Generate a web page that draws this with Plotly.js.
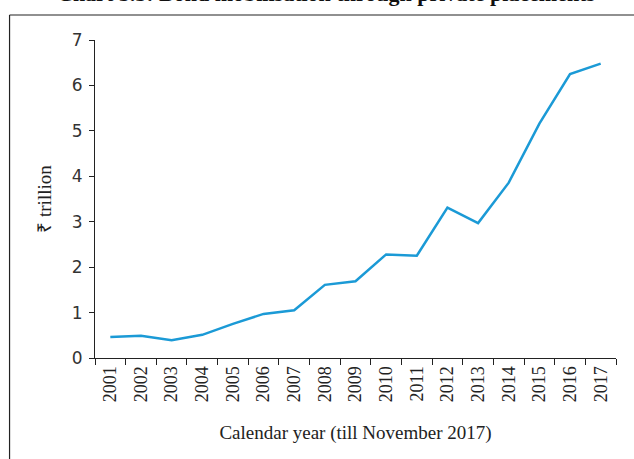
<!DOCTYPE html>
<html>
<head>
<meta charset="utf-8">
<script src="https://cdn.plot.ly/plotly-3.0.1.min.js"></script>
<style>html,body{margin:0;padding:0;background:#fff;}#chart{width:634px;height:459px;}</style>
</head>
<body>
<div id="chart"></div>
<script>
const years = ["2001","2002","2003","2004","2005","2006","2007","2008","2009","2010","2011","2012","2013","2014","2015","2016","2017"];
const values = [0.46,0.49,0.39,0.51,0.75,0.97,1.05,1.61,1.69,2.28,2.25,3.31,2.97,3.86,5.16,6.25,6.48];
const yTicks = [0,1,2,3,4,5,6,7];

const trace = {
  x: years, y: values, type: "scatter", mode: "lines",
  line: {color: "#1b9ad6", width: 2.5}, hoverinfo: "skip"
};
const serif = "Liberation Serif, Times New Roman, serif";
const layout = {
  width: 634, height: 459,
  margin: {l: 95, r: 18, t: 40, b: 101, autoexpand: false},
  paper_bgcolor: "#fff", plot_bgcolor: "#fff",
  showlegend: false,
  xaxis: {
    type: "category", range: [-0.5, 16.5],
    tickson: "boundaries", ticks: "outside", ticklen: 6, tickcolor: "#222", tickwidth: 1,
    showline: true, linecolor: "#222", linewidth: 1, showgrid: false, zeroline: false,
    tickangle: -90, tickfont: {family: serif, size: 18, color: "#222"},
    title: {text: "Calendar year (till November 2017)", font: {family: serif, size: 19, color: "#222"}, standoff: 24},
    automargin: false
  },
  yaxis: {
    range: [0, 7], tickvals: yTicks, ticktext: yTicks.map(String),
    ticks: "outside", ticklen: 5, tickcolor: "#222", tickwidth: 1,
    showline: true, linecolor: "#222", linewidth: 1, showgrid: false, zeroline: false,
    tickfont: {family: "DejaVu Sans, sans-serif", size: 17, color: "#333"},
    ticklabelstandoff: 3,
    title: {text: "₹ trillion", font: {family: serif, size: 19, color: "#222"}, standoff: 15},
    automargin: false
  },
  shapes: [
    {type: "line", xref: "paper", yref: "paper", x0: -0.164, x1: -0.164, y0: 1.0786, y1: -0.4, line: {color: "#222", width: 1.2}},
    {type: "line", xref: "paper", yref: "paper", x0: -0.164, x1: 1.1, y0: 1.0786, y1: 1.0786, line: {color: "#222", width: 1.2}}
  ],
  annotations: [
    {text: "<b>Chart 5.5: Bond mobilisation through private placements</b>", xref: "paper", yref: "paper",
     x: 0.443, y: 1.145, xanchor: "center", yanchor: "middle", showarrow: false,
     font: {family: serif, size: 22, color: "#111"}}
  ]
};
Plotly.newPlot("chart", [trace], layout, {displayModeBar: false, staticPlot: true});
</script>
</body>
</html>
